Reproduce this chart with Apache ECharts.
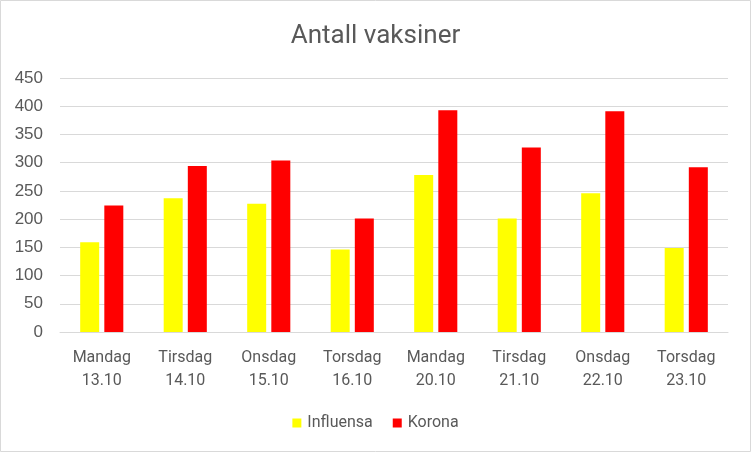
<!DOCTYPE html>
<html><head><meta charset="utf-8">
<script src="https://cdn.jsdelivr.net/npm/echarts@6/dist/echarts.min.js"></script>
<style>html,body{margin:0;padding:0;background:#fff}#c{width:751px;height:452px}</style>
</head><body><div id="c"></div>
<script>
const categories = ['Mandag\n13.10','Tirsdag\n14.10','Onsdag\n15.10','Torsdag\n16.10','Mandag\n20.10','Tirsdag\n21.10','Onsdag\n22.10','Torsdag\n23.10'];
const influensa = [159, 237, 227, 146, 278, 201, 246, 149];
const korona = [224, 294, 304, 201, 393, 327, 391, 292];
const yTicks = {min: 0, max: 450, interval: 50};
const font = 'Roboto, "Noto Sans", sans-serif';
const chart = echarts.init(document.getElementById('c'), null, {renderer: 'canvas'});
chart.setOption({
  animation: false,
  backgroundColor: '#fff',
  graphic: [{type: 'rect', shape: {x: 0.5, y: 0.5, width: 750, height: 451}, style: {fill: 'none', stroke: '#d9d9d9', lineWidth: 1}, silent: true}],
  title: {text: 'Antall vaksiner', left: 'center', top: 18, textStyle: {fontFamily: font, fontSize: 26, fontWeight: 'normal', color: '#595959'}},
  legend: {top: 410, left: 'center', icon: 'rect', itemWidth: 9, itemHeight: 9, itemGap: 20,
    textStyle: {fontFamily: font, fontSize: 16, color: '#595959', padding: [0, 0, 0, 1]}, data: ['Influensa', 'Korona']},
  grid: {left: 60, right: 23, top: 78, bottom: 120, containLabel: false},
  xAxis: {type: 'category', data: categories,
    axisLine: {lineStyle: {color: '#d9d9d9', width: 1}}, axisTick: {show: false},
    axisLabel: {fontFamily: font, fontSize: 16, color: '#595959', lineHeight: 23, margin: 14}},
  yAxis: {type: 'value', min: yTicks.min, max: yTicks.max, interval: yTicks.interval,
    axisLine: {show: false}, axisTick: {show: false},
    splitLine: {lineStyle: {color: '#d9d9d9', width: 1}},
    axisLabel: {fontFamily: '"Liberation Sans", Arial, sans-serif', fontSize: 17, color: '#595959', margin: 17}},
  series: [
    {name: 'Influensa', type: 'bar', data: influensa, itemStyle: {color: '#ffff00'}, barWidth: 19, barGap: '27%'},
    {name: 'Korona', type: 'bar', data: korona, itemStyle: {color: '#ff0000'}, barWidth: 19, barGap: '27%'}
  ]
});
</script></body></html>
